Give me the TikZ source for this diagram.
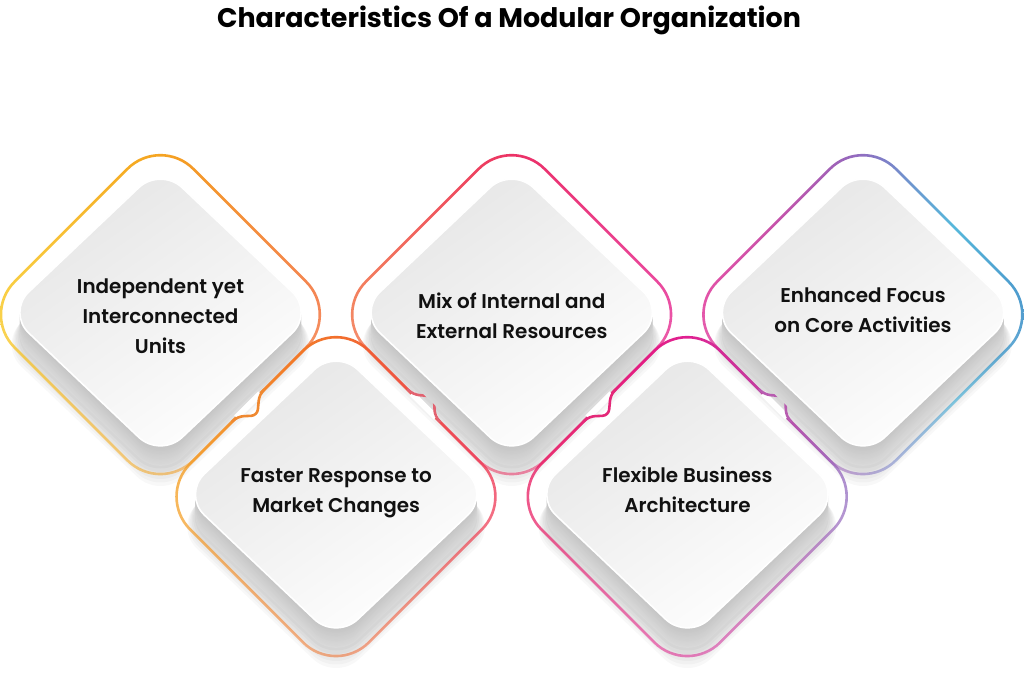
\documentclass[tikz,border=0pt]{standalone}
\usepackage{fontspec}
\setmainfont{Poppins}
\newfontfamily\labfont{Poppins SemiBold}
\usetikzlibrary{fadings}
\definecolor{aL}{HTML}{F8C60E}\definecolor{aM}{HTML}{F5A21C}\definecolor{aR}{HTML}{F15A24}
\definecolor{bL}{HTML}{F5A623}\definecolor{bM}{HTML}{F26B26}\definecolor{bR}{HTML}{EE2F5B}
\definecolor{cL}{HTML}{F1652A}\definecolor{cM}{HTML}{EC2D62}\definecolor{cR}{HTML}{E3168C}
\definecolor{dL}{HTML}{EA1E5C}\definecolor{dM}{HTML}{E0198E}\definecolor{dR}{HTML}{8C7CC8}
\definecolor{eL}{HTML}{E3198A}\definecolor{eA}{HTML}{C03A9E}\definecolor{eM}{HTML}{8C6BC0}\definecolor{eB}{HTML}{3FAED6}\definecolor{eR}{HTML}{0F6FB8}
\definecolor{txt}{HTML}{111111}
\pgfdeclarehorizontalshading{shA}{100bp}{color(0bp)=(aL); color(25bp)=(aL); color(50bp)=(aM); color(75bp)=(aR); color(100bp)=(aR)}
\pgfdeclarehorizontalshading{shB}{100bp}{color(0bp)=(bL); color(25bp)=(bL); color(50bp)=(bM); color(75bp)=(bR); color(100bp)=(bR)}
\pgfdeclarehorizontalshading{shC}{100bp}{color(0bp)=(cL); color(25bp)=(cL); color(50bp)=(cM); color(75bp)=(cR); color(100bp)=(cR)}
\pgfdeclarehorizontalshading{shD}{100bp}{color(0bp)=(dL); color(25bp)=(dL); color(50bp)=(dM); color(75bp)=(dR); color(100bp)=(dR)}
\pgfdeclarehorizontalshading{shE}{100bp}{color(0bp)=(eL); color(25bp)=(eL); color(37.5bp)=(eA); color(50bp)=(eM); color(62.5bp)=(eB); color(75bp)=(eR); color(100bp)=(eR)}
\tikzfading[name=fadeb, top color=transparent!0, bottom color=transparent!50]
\tikzset{
  labelbox/.style={align=center, inner sep=0pt, text=txt, font=\labfont\fontsize{20}{30}\selectfont},
  toothline/.style={line width=2.6bp, line cap=round, line join=round, rounded corners=6bp},
  eraser/.style={white, line width=6bp}
}
\begin{document}
\begin{tikzpicture}[x=1bp,y=-1bp]
\useasboundingbox (0,0) rectangle (1024,675);
\fill[white] (0,0) rectangle (1024,675);
% centres
\coordinate (c1) at (160.5,314.5);
\coordinate (c2) at (336.1,496.5);
\coordinate (c3) at (511.75,314.5);
\coordinate (c4) at (687.4,496.5);
\coordinate (c5) at (863,314.5);
% soft shadows
\foreach \cx/\fy in {160.5/312.5,336.1/494.5,511.75/312.5,687.4/494.5,863/312.5}{
  \foreach \k in {1,...,6}{
    \fill[black, fill opacity=0.028, rounded corners=32bp]
      (\cx-76.7-0.75*\k, \fy+20+2*\k+72.7+0.75*\k) -- (\cx-153.4-1.5*\k, \fy+20+2*\k) --
      (\cx, \fy+20+2*\k-145.4-1.5*\k) -- (\cx+153.4+1.5*\k, \fy+20+2*\k) --
      (\cx, \fy+20+2*\k+145.4+1.5*\k) -- cycle;
  }
}
% gradient outlines (rings)
\foreach \cx/\cy/\sh in {160.5/314.5/shA,336.1/496.5/shB,511.75/314.5/shC,687.4/496.5/shD,863/314.5/shE}{
  \shade[shading=\sh, even odd rule, path fading=fadeb]
    [rounded corners=47.8bp]
    (\cx-90.3,\cy+90.3) -- (\cx-180.6,\cy) -- (\cx,\cy-180.6) -- (\cx+180.6,\cy) -- (\cx,\cy+180.6) -- cycle
    [rounded corners=45.2bp]
    (\cx-88.45,\cy+88.45) -- (\cx-176.9,\cy) -- (\cx,\cy-176.9) -- (\cx+176.9,\cy) -- (\cx,\cy+176.9) -- cycle;
}
% steps in the shared outline edges
\coordinate (m12) at (248.3,405.5);
\coordinate (m23) at (423.9,405.5);
\coordinate (m34) at (599.6,405.5);
\coordinate (m45) at (775.2,405.5);
\draw[eraser] ([shift={(12,-12)}]m12) -- ([shift={(-12,12)}]m12);
\draw[eraser] ([shift={(-12,-12)}]m23) -- ([shift={(12,12)}]m23);
\draw[eraser] ([shift={(12,-12)}]m34) -- ([shift={(-12,12)}]m34);
\draw[eraser] ([shift={(-12,-12)}]m45) -- ([shift={(12,12)}]m45);
\draw[toothline, draw={rgb,255:red,239;green,136;blue,48}]
  ([shift={(16,-16)}]m12) -- ([shift={(11,-11)}]m12) -- ([shift={(9,10)}]m12) -- ([shift={(-11,11)}]m12) -- ([shift={(-16,16)}]m12);
\draw[toothline, draw={rgb,255:red,226;green,98;blue,112}]
  ([shift={(-16,-16)}]m23) -- ([shift={(-11,-11)}]m23) -- ([shift={(10,-9)}]m23) -- ([shift={(11,11)}]m23) -- ([shift={(16,16)}]m23);
\draw[toothline, draw={rgb,255:red,228;green,40;blue,120}]
  ([shift={(16,-16)}]m34) -- ([shift={(11,-11)}]m34) -- ([shift={(9,10)}]m34) -- ([shift={(-11,11)}]m34) -- ([shift={(-16,16)}]m34);
\draw[toothline, draw={rgb,255:red,184;green,92;blue,176}]
  ([shift={(-16,-16)}]m45) -- ([shift={(-11,-11)}]m45) -- ([shift={(10,-9)}]m45) -- ([shift={(11,11)}]m45) -- ([shift={(16,16)}]m45);
% extruded grey blocks
\foreach \cx/\fy in {160.5/312.5,336.1/494.5,511.75/312.5,687.4/494.5,863/312.5}{
  \foreach \t/\g in {20/15,18.75/15.5,17.5/16,16.25/16.5,15/17,13.75/17.5,12.5/18,11.25/18.5,10/19,8.75/19.5,7.5/20,6.25/20.5,5/21,3.75/21.5,2.5/22,1.25/22.5}{
    \fill[black!\g, rounded corners=30bp]
      (\cx-76.7, \fy+\t+72.7) -- (\cx-153.4, \fy+\t) -- (\cx, \fy+\t-145.4) --
      (\cx+153.4, \fy+\t) -- (\cx, \fy+\t+145.4) -- cycle;
  }
  \shade[top color=black!10, middle color=white, bottom color=white, shading angle=35, rounded corners=30bp]
      (\cx-76.7, \fy+72.7) -- (\cx-153.4, \fy) -- (\cx, \fy-145.4) --
      (\cx+153.4, \fy) -- (\cx, \fy+145.4) -- cycle;
  \draw[white, line width=1.6bp, rounded corners=30bp]
      (\cx-76.7, \fy+72.7) -- (\cx-153.4, \fy) -- (\cx, \fy-145.4) --
      (\cx+153.4, \fy) -- (\cx, \fy+145.4) -- cycle;
}
% title
\node[font=\bfseries\fontsize{27}{32}\selectfont, text=black, inner sep=0pt] (title) at (509,20) {Characteristics Of a Modular Organization};
% labels
\node[labelbox] (t1) at (160.5,316.5) {Independent yet\\Interconnected\\Units};
\node[labelbox] (t2) at (336.1,493) {Faster Response to\\Market Changes};
\node[labelbox] (t3) at (511.75,316) {Mix of Internal and\\External Resources};
\node[labelbox] (t4) at (687.4,489.5) {Flexible Business\\Architecture};
\node[labelbox] (t5) at (863,310) {Enhanced Focus\\on Core Activities};
\end{tikzpicture}
\end{document}
